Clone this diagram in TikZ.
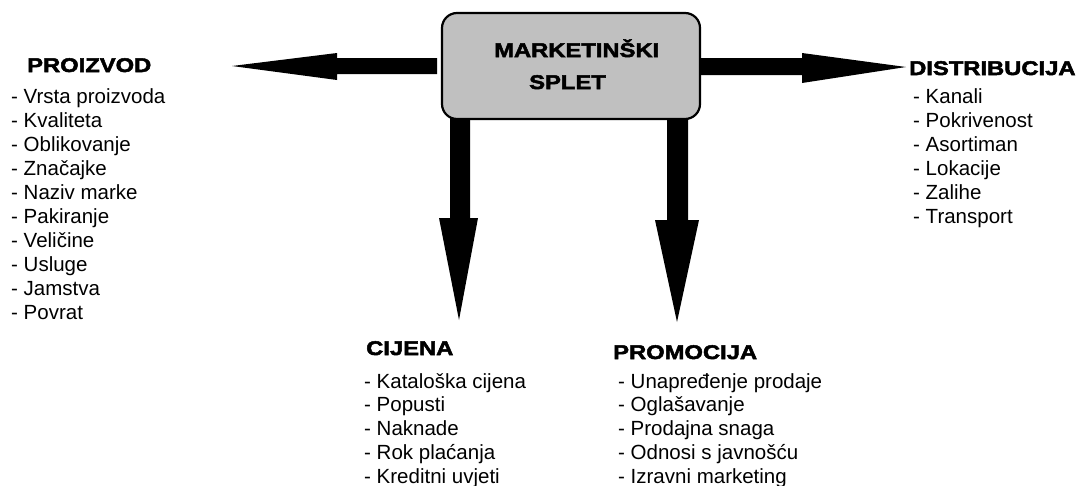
\documentclass[tikz,border=0pt]{standalone}
\usepackage{fontspec}
\setmainfont{Liberation Sans}
\newfontfamily\hfont[FakeStretch=1.2,FakeBold=2.5]{Liberation Sans}
\begin{document}
\begin{tikzpicture}[x=1pt,y=-1pt,
  box/.style={draw=black,line width=2.2pt,fill={rgb,255:red,192;green,192;blue,192},rounded corners=15pt,minimum width=258pt,minimum height=106pt,inner sep=0pt},
  head/.style={anchor=base west,inner sep=0pt,font=\hfont\bfseries\fontsize{19.8}{24}\selectfont},
  item/.style={anchor=base west,inner sep=0pt,font=\fontsize{20.5}{24}\selectfont},
  arrowfill/.style={fill=black}]
\useasboundingbox (0,0) rectangle (1091,485);
% centre node position
\coordinate (c) at (571,66);
% tips and head bases
\coordinate (tipP) at (232,66);  \coordinate (hP) at (337,66);
\coordinate (tipD) at (906,67);  \coordinate (hD) at (802,67);
\coordinate (tipC) at (459,320); \coordinate (hC) at (459,218);
\coordinate (tipM) at (677,322); \coordinate (hM) at (677,220);
% arrows (under the box)
\fill[arrowfill] ([shift={(100,-8)}]hP) -- ([shift={(0,-8)}]hP) -- ([shift={(0,-13)}]hP) -- (tipP)
   -- ([shift={(0,14)}]hP) -- ([shift={(0,8)}]hP) -- ([shift={(100,8)}]hP) -- cycle;
\fill[arrowfill] ([shift={(-130,-9)}]hD) -- ([shift={(0,-9)}]hD) -- ([shift={(0,-14)}]hD) -- (tipD)
   -- ([shift={(0,16)}]hD) -- ([shift={(0,8)}]hD) -- ([shift={(-130,8)}]hD) -- cycle;
\fill[arrowfill] ([shift={(-9,-120)}]hC) -- ([shift={(-9,0)}]hC) -- ([shift={(-20,0)}]hC) -- (tipC)
   -- ([shift={(19,0)}]hC) -- ([shift={(11,0)}]hC) -- ([shift={(11,-120)}]hC) -- cycle;
\fill[arrowfill] ([shift={(-10,-120)}]hM) -- ([shift={(-10,0)}]hM) -- ([shift={(-22,0)}]hM) -- (tipM)
   -- ([shift={(22,0)}]hM) -- ([shift={(11,0)}]hM) -- ([shift={(11,-120)}]hM) -- cycle;
% central box
\node[box] (mix) at (c) {};
\node[head] (t1) at (494,57) {MARKETINŠKI};
\node[head] (t2) at (529,89) {SPLET};
% headings
\node[head] (proizvod) at (27,72) {PROIZVOD};
\node[head] (distribucija) at (909,75) {DISTRIBUCIJA};
\node[head] (cijena) at (366,355) {CIJENA};
\node[head] (promocija) at (613,359) {PROMOCIJA};
% lists
\foreach \t [count=\i from 0] in {Vrsta proizvoda,Kvaliteta,Oblikovanje,Značajke,Naziv marke,Pakiranje,Veličine,Usluge,Jamstva,Povrat}
  \node[item] (p\i) at (11,103+24.1*\i) {- \t};
\foreach \t [count=\i from 0] in {Kanali,Pokrivenost,Asortiman,Lokacije,Zalihe,Transport}
  \node[item] (d\i) at (913,103+24*\i) {- \t};
\foreach \t [count=\i from 0] in {Kataloška cijena,Popusti,Naknade,Rok plaćanja,Kreditni uvjeti}
  \node[item] (c\i) at (364,388+23.8*\i) {- \t};
\foreach \t [count=\i from 0] in {Unapređenje prodaje,Oglašavanje,Prodajna snaga,Odnosi s javnošću,Izravni marketing}
  \node[item] (m\i) at (618,388+23.8*\i) {- \t};
\end{tikzpicture}
\end{document}
